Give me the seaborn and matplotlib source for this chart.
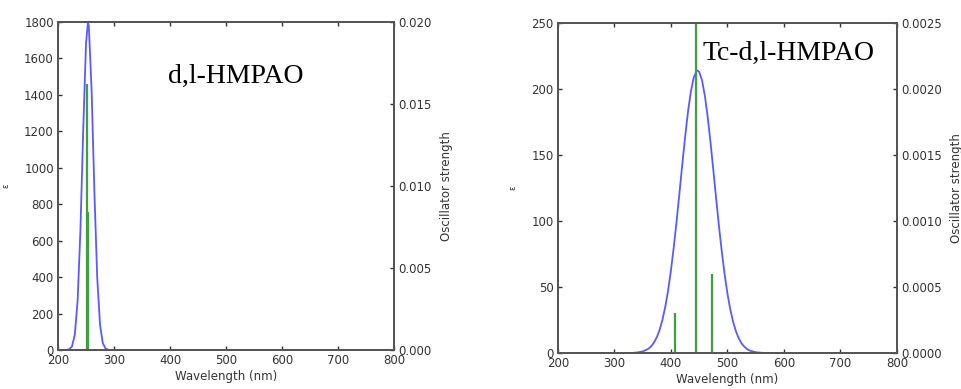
import matplotlib
matplotlib.use("Agg")
import matplotlib.pyplot as plt
import seaborn as sns
import pandas as pd

# d,l-HMPAO spectrum
wl_a = [200, 210, 215, 220, 225, 230, 235, 240, 245, 250, 253.5, 255, 260, 265,
        270, 275, 280, 285, 290, 295, 300, 800]
eps_a = [0, 0, 0.5, 3.6, 20, 84, 270, 656, 1206, 1682, 1800, 1778, 1424, 865,
         398, 139, 37, 7.4, 1.1, 0.1, 0, 0]
stick_wl_a = [252, 254]
stick_f_a = [0.0162, 0.0084]

# Tc-d,l-HMPAO spectrum
wl_b = [200, 330, 340, 350, 360, 365, 370, 375, 380, 385, 390, 395, 400, 405, 410,
        415, 420, 425, 430, 435, 440, 445, 447, 450, 455, 460, 465, 470, 475, 480,
        485, 490, 495, 500, 505, 510, 515, 520, 525, 530, 535, 540, 550, 560, 570, 800]
eps_b = [0, 0, 0.4, 1.2, 3.2, 5.1, 8.0, 12.0, 17.7, 25.3, 35.2, 47.6, 62.7, 80.3, 100.0,
         121.1, 142.7, 163.5, 182.3, 197.5, 208.3, 213.5, 214, 212.9, 206.5, 194.8, 178.8,
         159.5, 138.4, 116.8, 95.9, 76.6, 59.5, 44.9, 33.0, 23.6, 16.4, 11.1, 7.3, 4.7,
         2.9, 1.8, 0.6, 0.2, 0, 0]
stick_wl_b = [407, 445, 472]
stick_f_b = [0.0003, 0.0031, 0.0006]

sns.set_style("ticks", {"xtick.direction": "in", "ytick.direction": "in",
                        "axes.edgecolor": "#555555"})
plt.rcParams.update({"xtick.top": True, "font.size": 8.5,
                     "xtick.color": "#333333", "ytick.color": "#333333"})

fig = plt.figure(figsize=(9.62, 3.89), dpi=100)
ax1 = fig.add_axes([0.0603, 0.1003, 0.3493, 0.8431])
ax2 = fig.add_axes([0.580, 0.0925, 0.3524, 0.8484])

panels = [
    (ax1, wl_a, eps_a, stick_wl_a, stick_f_a, 1800, 200, 0.020, 0.005, "%.3f",
     "d,l-HMPAO", 0.327, 0.814),
    (ax2, wl_b, eps_b, stick_wl_b, stick_f_b, 250, 50, 0.0025, 0.0005, "%.4f",
     "Tc-d,l-HMPAO", 0.425, 0.888),
]

for ax, wl, eps, swl, sf, ymax, ystep, fmax, fstep, ffmt, name, tx, ty in panels:
    df = pd.DataFrame({"Wavelength": wl, "eps": eps})
    sns.lineplot(data=df, x="Wavelength", y="eps", color="#5a5aff",
                 linewidth=1.3, ax=ax)
    ax.set_xlim(200, 800)
    ax.set_ylim(0, ymax)
    ax.set_xticks(range(200, 801, 100))
    ax.set_yticks(range(0, ymax + 1, ystep))
    ax.set_xlabel("Wavelength (nm)", fontsize=8.5, color="#333333", labelpad=2)
    ax.set_ylabel("\u03b5", fontsize=6, color="#333333", labelpad=10)
    ax.tick_params(length=3, width=1, pad=3, labelsize=8.5)

    twin = ax.twinx()
    twin.vlines(swl, 0, sf, colors="#3fa03f", linewidth=1.6)
    twin.set_ylim(0, fmax)
    n = round(fmax / fstep)
    twin.set_yticks([i * fstep for i in range(n + 1)])
    twin.set_yticklabels([ffmt % (i * fstep) for i in range(n + 1)])
    twin.set_ylabel("Oscillator strength", fontsize=8.5, color="#333333", labelpad=6)
    twin.tick_params(direction="in", length=3, width=1, pad=3, labelsize=8.5)
    for a in (ax, twin):
        for s in a.spines.values():
            s.set_linewidth(1.3)
            s.set_color("#555555")

    ax.text(tx, ty, name, transform=ax.transAxes, family="Liberation Serif",
            fontsize=20, va="baseline", ha="left", color="black", zorder=5)

fig.savefig("out.png", dpi=100)
